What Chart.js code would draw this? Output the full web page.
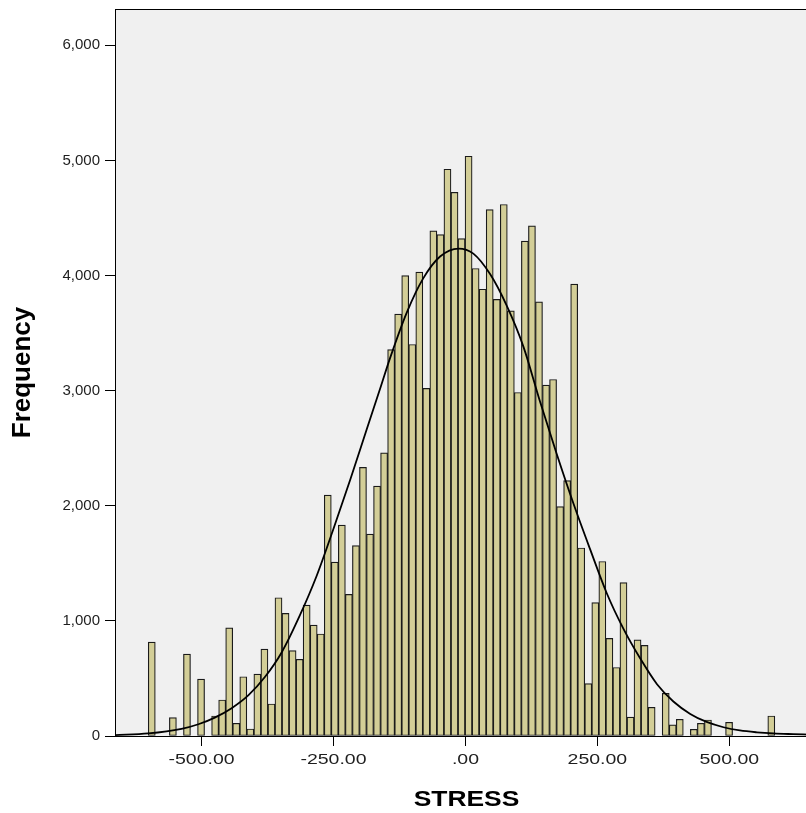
<!DOCTYPE html>
<html>
<head>
<meta charset="utf-8">
<title>STRESS histogram</title>
<script src="https://cdn.jsdelivr.net/npm/chart.js@4/dist/chart.umd.min.js"></script>
<style>
  html, body { margin: 0; padding: 0; background: #ffffff; overflow: hidden; }
  #wrap { position: relative; width: 809px; height: 813px; }
</style>
</head>
<body>
<div id="wrap"><canvas id="chart" width="809" height="813"></canvas></div>
<script>
// Histogram layout: lower edge of the first bin and bin width (STRESS units)
const binLow = -601;
const binWidth = 13.34;

// Frequency in each bin, left to right
const frequencies = [
  816, 0, 0, 159, 0, 712, 0, 495, 0,
  174, 313, 940, 110, 515, 61, 538, 755, 278, 1201,
  1065, 741, 666, 1137, 964, 886, 2093, 1511, 1832, 1230,
  1653, 2333, 1754, 2171, 2460, 3357, 3664, 4000, 3401, 4029,
  3019, 4388, 4356, 4923, 4723, 4321, 5036, 4061, 3881, 4573,
  3792, 4617, 3693, 2984, 4298, 4431, 3771, 3048, 3097, 1992,
  2219, 3925, 1633, 455, 1158, 1516, 848, 595, 1333, 164,
  836, 787, 249, 0, 371, 96, 145, 0, 58, 110,
  139, 0, 0, 119, 0, 0, 0, 0, 0, 174
];

// Fitted normal curve, sampled along STRESS
const normalX = [-664, -601, -538, -506, -475, -443, -411, -380, -348, -314, -282, -250, -218, -187, -160, -143, -111, -80, -48, -13,
                 15, 47, 78, 110, 141, 173, 205, 236, 268, 299, 331, 363, 394, 426, 457, 489, 520, 552, 584, 621, 651];
const normalY = [8, 22, 62, 102, 160, 242, 355, 512, 728, 1045, 1390, 1800, 2230, 2665, 3040, 3280, 3680, 3975, 4165, 4234,
                 4190, 4010, 3740, 3380, 2910, 2450, 2015, 1625, 1238, 935, 675, 450, 300, 192, 122, 76, 48, 32, 22, 16, 12];

// Axis ticks
const xTicks = [-500, -250, 0, 250, 500];
const xTickLabels = ['-500.00', '-250.00', '.00', '250.00', '500.00'];
const yTicks = [0, 1000, 2000, 3000, 4000, 5000, 6000];
const yTickLabels = ['0', '1,000', '2,000', '3,000', '4,000', '5,000', '6,000'];

const xTitle = 'STRESS';
const yTitle = 'Frequency';

const binCenters = frequencies.map((_, i) => binLow + (i + 0.5) * binWidth);
const barPoints = frequencies.map((f, i) => ({ x: binCenters[i], y: f }));
const curvePoints = normalX.map((x, i) => ({ x: x, y: normalY[i] }));

const fontFamily = "'Liberation Sans', Arial, sans-serif";
const tickFont = { family: fontFamily, size: 15 };

// Draws a line of text centred on (x, y), widened horizontally by sx
function wideText(ctx, text, x, y, sx, font) {
  ctx.save();
  ctx.translate(x, y);
  ctx.scale(sx, 1);
  ctx.font = font;
  ctx.fillText(text, 0, 0);
  ctx.restore();
}

// Grey plot background, frame, x tick labels and the two axis titles
const framePlugin = {
  id: 'frame',
  beforeDraw(chart) {
    const { ctx, chartArea: a } = chart;
    ctx.save();
    ctx.fillStyle = '#f0f0f0';
    ctx.fillRect(a.left, a.top, a.right - a.left, a.bottom - a.top);
    ctx.restore();
  },
  afterDraw(chart) {
    const { ctx, chartArea: a } = chart;
    const xScale = chart.scales.x;
    ctx.save();
    ctx.strokeStyle = '#000000';
    ctx.lineWidth = 1;
    ctx.strokeRect(Math.round(a.left) + 0.5, Math.round(a.top) + 0.5,
                   Math.round(a.right - a.left), Math.round(a.bottom - a.top));

    ctx.textAlign = 'center';
    ctx.textBaseline = 'middle';

    // x tick labels under each tick mark
    ctx.fillStyle = '#1e1e1e';
    xTicks.forEach((v, i) => {
      wideText(ctx, xTickLabels[i], xScale.getPixelForValue(v), a.bottom + 24, 1.3, '15px ' + fontFamily);
    });

    ctx.fillStyle = '#000000';
    // y title, rotated
    ctx.save();
    ctx.translate(23, (a.top + a.bottom) / 2);
    ctx.rotate(-Math.PI / 2);
    ctx.font = 'bold 26px ' + fontFamily;
    ctx.fillText(yTitle, 0, 0);
    ctx.restore();

    // x title
    wideText(ctx, xTitle, 466.5, 800, 1.2, 'bold 22px ' + fontFamily);

    ctx.restore();
  }
};

new Chart(document.getElementById('chart'), {
  type: 'bar',
  data: {
    datasets: [
      {
        type: 'line',
        data: curvePoints,
        borderColor: '#000000',
        borderWidth: 1.8,
        pointRadius: 0,
        fill: false,
        cubicInterpolationMode: 'monotone',
        order: 0
      },
      {
        type: 'bar',
        data: barPoints,
        backgroundColor: '#d3ce97',
        borderColor: '#1a1a1a',
        borderWidth: 1.2,
        borderSkipped: false,
        barPercentage: 1.0,
        categoryPercentage: 1.0,
        order: 1
      }
    ]
  },
  options: {
    responsive: false,
    animation: false,
    events: [],
    layout: { padding: { top: 9, right: 0, bottom: 0, left: 0 } },
    plugins: {
      legend: { display: false },
      tooltip: { enabled: false },
      title: { display: false }
    },
    scales: {
      x: {
        type: 'linear',
        min: -664,
        max: 651,
        offset: false,
        grid: { offset: false, drawOnChartArea: false, drawTicks: true, tickLength: 10, color: '#000000', lineWidth: 1 },
        border: { display: true, color: '#000000' },
        ticks: { display: false, autoSkip: false },
        afterBuildTicks: (scale) => { scale.ticks = xTicks.map(v => ({ value: v })); },
        afterFit: (scale) => { scale.height = 77; scale.paddingLeft = 0; scale.paddingRight = 0; }
      },
      y: {
        type: 'linear',
        min: 0,
        max: 6315,
        grid: { drawOnChartArea: false, drawTicks: true, tickLength: 10, color: '#000000', lineWidth: 1 },
        border: { display: true, color: '#000000' },
        ticks: {
          font: tickFont,
          color: '#1e1e1e',
          padding: 5,
          autoSkip: false,
          callback: (v, i) => yTickLabels[i]
        },
        afterBuildTicks: (scale) => { scale.ticks = yTicks.map(v => ({ value: v })); },
        afterFit: (scale) => { scale.width = 115; scale.paddingTop = 0; scale.paddingBottom = 0; }
      }
    }
  },
  plugins: [framePlugin]
});
</script>
</body>
</html>
